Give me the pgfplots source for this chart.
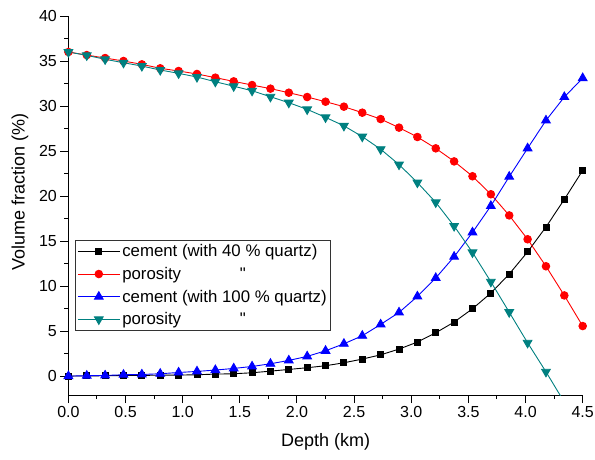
\documentclass[border=0pt]{standalone}
\usepackage{fontspec}
\setmainfont{Liberation Sans}
\usepackage{pgfplots}
\pgfplotsset{compat=1.18}
\usepackage{pgfplotstable}
\usetikzlibrary{calc}
\definecolor{myteal}{RGB}{0,128,128}

\pgfplotstableread{
x       c40    p40    c100   p100
0       0      36.0   0      36.0
0.1607  0.02   35.66  0.04   35.63
0.3214  0.04   35.33  0.07   35.19
0.4821  0.06   35.00  0.15   34.81
0.6429  0.08   34.63  0.18   34.44
0.8036  0.10   34.19  0.26   34.00
0.9643  0.11   33.89  0.40   33.63
1.1250  0.15   33.56  0.52   33.22
1.2857  0.22   33.15  0.67   32.70
1.4464  0.26   32.74  0.85   32.20
1.6071  0.37   32.33  1.07   31.70
1.7679  0.55   31.93  1.37   31.03
1.9286  0.74   31.48  1.74   30.37
2.0893  0.93   31.00  2.19   29.63
2.2500  1.15   30.48  2.81   28.74
2.4107  1.48   29.93  3.59   27.80
2.5714  1.89   29.26  4.48   26.60
2.7321  2.36   28.55  5.74   25.20
2.8929  3.00   27.60  7.07   23.50
3.0536  3.78   26.56  8.85   21.50
3.2143  4.81   25.30  10.90  19.30
3.3750  6.00   23.85  13.26  16.67
3.5357  7.48   22.20  15.96  13.74
3.6964  9.22   20.20  18.90  10.48
3.8571  11.33  17.85  22.15  7.10
4.0179  13.80  15.20  25.30  3.70
4.1786  16.56  12.20  28.40  0.48
4.3393  19.63  8.96   31.00  -2.90
4.5000  22.85  5.56   33.10  nan
}\data

\begin{document}
\begin{tikzpicture}
\begin{axis}[
  scale only axis, width=514.3pt, height=379pt,
  xmin=0, xmax=4.5, ymin=-2.1, ymax=40,
  axis x line*=bottom, axis y line*=left,
  axis line style={line width=1pt, -},
  xtick={0,0.5,1,1.5,2,2.5,3,3.5,4,4.5},
  ytick={0,5,10,15,20,25,30,35,40},
  minor x tick num=1, minor y tick num=1,
  tick align=outside, major tick length=8pt, minor tick length=4pt,
  every tick/.style={line width=1pt, black},
  /pgf/number format/assume math mode=true,
  tick label style={font=\fontsize{16}{19}\selectfont},
  x tick label style={/pgf/number format/.cd, fixed, fixed zerofill, precision=1},
  y tick label style={/pgf/number format/.cd, fixed, precision=0},
  xlabel={Depth (km)}, ylabel={Volume fraction (\%)},
  label style={font=\fontsize{18}{21}\selectfont},
  xlabel style={at={(axis description cs:0.5,-0.124)}, anchor=center},
  ylabel style={at={(axis description cs:-0.0941,0.536)}, anchor=center},
  legend cell align=left,
  legend style={at={(axis cs:0.058,15.1)}, anchor=north west, draw=black!80, line width=0.7pt,
    font=\fontsize{16.8}{19}\selectfont, inner xsep=2pt, inner ysep=2pt, row sep=5pt},
  legend image code/.code={\draw[mark repeat=2,mark phase=2,#1] plot coordinates {(0pt,0pt) (21pt,0pt) (42pt,0pt)};},
  every axis plot/.append style={line width=0.9pt},
]
\coordinate (O) at (rel axis cs:0,0);
\addplot[black, mark=square*, mark size=3pt, mark options={solid}] table[x=x,y=c40] {\data};
\addlegendentry{cement (with 40 \% quartz)}
\addplot[red, mark=*, mark size=3.8pt, mark options={solid}] table[x=x,y=p40] {\data};
\addlegendentry{\makebox[7.0em][l]{porosity}\textquotedbl}
\addplot[blue, mark=triangle*, mark size=5pt, mark options={solid}] table[x=x,y=c100] {\data};
\addlegendentry{cement (with 100 \% quartz)}
\addplot[myteal, mark=triangle*, mark size=5pt, mark options={solid, rotate=180}] table[x=x,y=p100] {\data};
\addlegendentry{\makebox[7.0em][l]{porosity}\textquotedbl}
\end{axis}
\pgfresetboundingbox
\path[use as bounding box] ($(O)+(-68.4pt,-64pt)$) rectangle ($(O)+(526.6pt,395pt)$);
\end{tikzpicture}
\end{document}
